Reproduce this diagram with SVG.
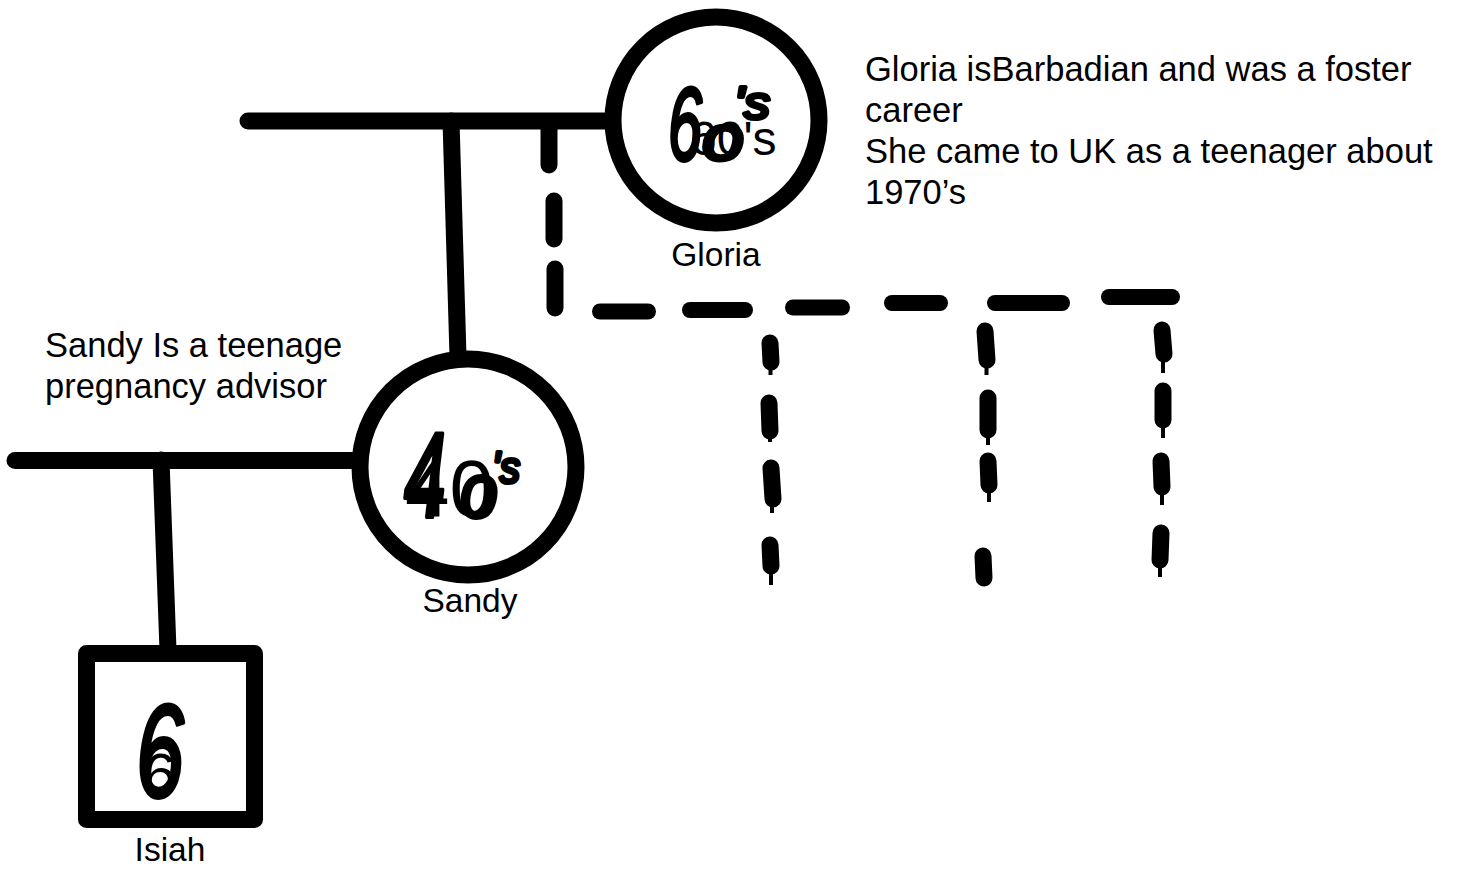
<svg xmlns="http://www.w3.org/2000/svg" width="1460" height="870" viewBox="0 0 1460 870">
  <style>
    .ln { stroke: #000; stroke-width: 17; stroke-linecap: round; fill: none; }
    .dash { stroke: #000; stroke-width: 16; stroke-linecap: round; fill: none; }
    .ink { stroke: #000; stroke-width: 17; stroke-linecap: round; fill: none; }
    .tail { stroke: #000; stroke-width: 4; fill: none; }
    .shape { stroke: #000; stroke-width: 17; fill: #fff; stroke-linejoin: round; }
    .lbl { font-family: "Liberation Sans", Arial, sans-serif; font-size: 33.5px; fill: #000; }
    .note { font-family: "Liberation Sans", Arial, sans-serif; font-size: 34.5px; fill: #000; }
    .num { font-family: "Liberation Sans", Arial, sans-serif; fill: #000; }
    .hand { font-style: italic; stroke: #000; stroke-width: 4; stroke-linejoin: round; }
  </style>

  <!-- connectors -->
  <g id="connectors">
    <!-- Gloria's partnership line and descent to Sandy -->
    <line class="ln" x1="248" y1="121" x2="605" y2="121"/>
    <line class="ln" x1="451" y1="121" x2="458" y2="356" stroke-linecap="butt"/>
    <!-- dashed descent to other children -->
    <line class="ln" x1="549" y1="125" x2="549" y2="165"/>
    <line class="ln" x1="554" y1="201" x2="554" y2="239"/>
    <line class="ln" x1="555" y1="269" x2="555" y2="308"/>
    <line class="dash" x1="600" y1="311.5" x2="648" y2="311.5"/>
    <line class="dash" x1="690" y1="310" x2="745" y2="310"/>
    <line class="dash" x1="793" y1="307.5" x2="842" y2="307.5"/>
    <line class="dash" x1="892" y1="303" x2="940" y2="303"/>
    <line class="dash" x1="995" y1="303" x2="1062" y2="303"/>
    <line class="dash" x1="1109" y1="297" x2="1172" y2="297"/>
    <!-- hand-drawn dashed drops -->
    <g id="drop-1">
      <line class="ink" x1="770" y1="343" x2="771" y2="362"/>
      <line class="tail" x1="770.5" y1="366" x2="770.5" y2="375"/>
      <line class="ink" x1="769" y1="403" x2="770" y2="431"/>
      <line class="tail" x1="770" y1="435" x2="770" y2="442"/>
      <line class="ink" x1="771" y1="468" x2="773" y2="499"/>
      <line class="tail" x1="772" y1="503" x2="772" y2="513"/>
      <line class="ink" x1="770" y1="545" x2="771" y2="566"/>
      <line class="tail" x1="771" y1="570" x2="771" y2="585"/>
    </g>
    <g id="drop-2">
      <line class="ink" x1="985" y1="331" x2="987" y2="360"/>
      <line class="tail" x1="986.5" y1="364" x2="986.5" y2="375"/>
      <line class="ink" x1="988" y1="398" x2="988" y2="430"/>
      <line class="tail" x1="988" y1="434" x2="988" y2="445"/>
      <line class="ink" x1="988" y1="461" x2="989" y2="485"/>
      <line class="tail" x1="989" y1="489" x2="989" y2="502"/>
      <line class="ink" x1="983" y1="556" x2="984" y2="578"/>
    </g>
    <g id="drop-3">
      <line class="ink" x1="1162" y1="330" x2="1164" y2="354"/>
      <line class="tail" x1="1163" y1="358" x2="1163" y2="373"/>
      <line class="ink" x1="1163" y1="391" x2="1163" y2="420"/>
      <line class="tail" x1="1163" y1="424" x2="1163" y2="438"/>
      <line class="ink" x1="1161" y1="461" x2="1162" y2="487"/>
      <line class="tail" x1="1162" y1="491" x2="1162" y2="505"/>
      <line class="ink" x1="1161" y1="533" x2="1160" y2="560"/>
      <line class="tail" x1="1160" y1="564" x2="1160" y2="577"/>
    </g>
    <!-- Sandy's partnership line and descent to Isiah -->
    <line class="ln" x1="15" y1="460.5" x2="355" y2="460.5"/>
    <line class="ln" x1="161" y1="460" x2="168" y2="650" stroke-linecap="butt"/>
  </g>

  <!-- Gloria -->
  <g id="gloria">
    <circle class="shape" cx="716" cy="120" r="103"/>
    <text class="num"><tspan x="690" y="155" font-size="48">60's</tspan><tspan class="hand" x="668" y="160" font-size="104" textLength="34" lengthAdjust="spacingAndGlyphs">6</tspan><tspan class="hand" x="702" y="160" font-size="64" textLength="42" lengthAdjust="spacingAndGlyphs">o</tspan><tspan class="hand" x="734" y="119" font-size="46" textLength="36" lengthAdjust="spacingAndGlyphs">'s</tspan></text>
    <text class="lbl" x="716" y="266" text-anchor="middle">Gloria</text>
  </g>

  <!-- Sandy -->
  <g id="sandy">
    <circle class="shape" cx="468" cy="467" r="108" stroke-width="16"/>
    <text class="num"><tspan x="405" y="516" font-size="80">40</tspan><tspan class="hand" x="404" y="517" font-size="120" textLength="42" lengthAdjust="spacingAndGlyphs">4</tspan><tspan class="hand" x="460" y="517" font-size="76" textLength="38" lengthAdjust="spacingAndGlyphs">o</tspan><tspan class="hand" x="492" y="483" font-size="44" textLength="28" lengthAdjust="spacingAndGlyphs">'s</tspan></text>
    <text class="lbl" x="470" y="612" text-anchor="middle">Sandy</text>
  </g>

  <!-- Isiah -->
  <g id="isiah">
    <rect class="shape" x="86.5" y="653.5" width="168" height="166"/>
    <text class="num"><tspan x="143" y="795" font-size="60">6</tspan><tspan class="hand" x="136" y="797" font-size="132" textLength="48" lengthAdjust="spacingAndGlyphs">6</tspan></text>
    <text class="lbl" x="170" y="861" text-anchor="middle">Isiah</text>
  </g>

  <!-- notes -->
  <g id="note-gloria" class="note">
    <text x="865" y="81">Gloria isBarbadian and was a foster</text>
    <text x="865" y="122">career</text>
    <text x="865" y="163">She came to UK as a teenager about</text>
    <text x="865" y="204">1970’s</text>
  </g>
  <g id="note-sandy" class="note">
    <text x="45" y="357">Sandy Is a teenage</text>
    <text x="45" y="398">pregnancy advisor</text>
  </g>
</svg>
